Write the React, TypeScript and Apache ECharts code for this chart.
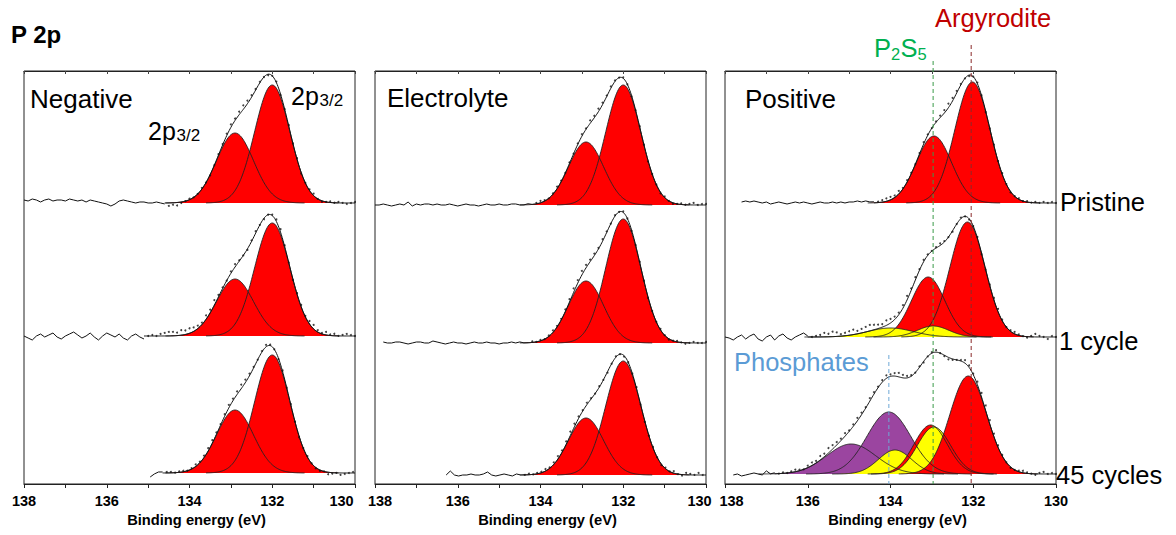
import React, { useEffect, useRef } from "react";
import * as echarts from "echarts";

const FONT = '"Liberation Sans", Arial, Helvetica, sans-serif';

// ---------- text ----------
const panelTitles = ["Negative", "Electrolyte", "Positive"];
const rowLabels = ["Pristine", "1 cycle", "45 cycles"];
const axisTitle = "Binding energy (eV)";
const figureTitle = "P 2p";
const xMin = 130;
const xMax = 138;

// ---------- spectra layout in intensity units (panel floor = 0) ----------
const baselineOffsets = [
  [281, 148, 11],
  [279, 141, 9],
  [281, 147, 10],
];
// first recorded binding energy of each spectrum (eV)
const dataStart = [
  [138, 138, 134.95],
  [138, 137.8, 136.28],
  [137.6, 138, 137.8],
];

const FILL: Record<string, string> = { red: "#ff0000", yellow: "#ffff00", purple: "#9b45a0" };

// fitted components: [centre eV, height, FWHM eV, colour]
type Comp = [number, number, number, string];
const negPristinePeaks: Comp[] = [[132.9, 70, 1.05, "red"], [132.0, 118, 1.0, "red"]];
const neg1cyclePeaks: Comp[] = [[132.9, 57, 1.05, "red"], [132.0, 113, 1.0, "red"]];
const neg45cyclePeaks: Comp[] = [[132.9, 63, 1.05, "red"], [132.0, 118, 1.0, "red"]];
const elePristinePeaks: Comp[] = [[132.9, 63, 1.0, "red"], [132.0, 120, 1.0, "red"]];
const ele1cyclePeaks: Comp[] = [[132.9, 62, 1.0, "red"], [132.0, 124, 1.0, "red"]];
const ele45cyclePeaks: Comp[] = [[132.9, 57, 1.0, "red"], [132.0, 114, 1.0, "red"]];
const posPristinePeaks: Comp[] = [[132.95, 67, 1.0, "red"], [132.02, 121, 1.0, "red"]];
const pos1cyclePeaks: Comp[] = [
  [133.09, 60, 0.95, "red"],
  [132.14, 115, 1.0, "red"],
  [134.0, 9, 1.3, "yellow"],
  [132.97, 11, 0.9, "yellow"],
];
const pos45cyclePeaks: Comp[] = [
  [134.95, 30, 1.4, "purple"],
  [134.04, 62, 1.25, "purple"],
  [133.89, 24, 0.95, "yellow"],
  [133.03, 49, 0.95, "red"],
  [132.95, 47, 0.95, "yellow"],
  [132.12, 98, 1.05, "red"],
];

// raw data residuals (intensity units), 0.1 eV steps: line part from dataStart, then dots
const negPristineNoise = [3,2,4,3,1,3,4,2,3,3,2,4,3,2,3,1,3,2,1,0,-1,-3,-1,2,3,2,1,0,1,1,0,0,1,0,-1];
const negPristineDots = [-3,-2,-3,-1,0,1,0,0,1,0,-1,0,1,1,2,3,2,3,4,3,2,1,1,0,-1,0,1,-1,0,1,0,1,-1,0,1,2,0,-1,0,1,0,1,0,-1,0,1];
const neg1cycleNoise = [0,-2,-4,0,2,-1,1,3,-1,-3,0,2,4,1,-2,0,3,-1,-4,0,3,1,-1,2,-2,-4,0,2,-1,-3];
const neg1cycleDots = [0,1,0,2,3,4,4,3,5,4,5,4,3,2,4,3,5,2,1,0,2,3,1,0,-1,1,2,0,-1,0,1,2,3,1,0,-1,1,2,1,3,4,2,1,3,1,2,0,1,2,1,0];
const neg45cycleNoise = [-4,-1,1,1];
const neg45cycleDots = [1,1,0,1,1,0,1,2,1,2,3,3,2,1,2,3,2,3,4,3,2,1,0,1,2,1,0,-1,1,0,1,0,-1,0,1,0,-1,-1,0,-2,-1,0,-2,-1,0,1];
const elePristineNoise = [0,0,1,0,-1,0,1,0,3,-1,1,0,1,1,0,1,0,0,1,0,-1,0,1,0,0,-1,0,1,0,0,1,0,0,1,1,0,0,1,0];
const elePristineDots = [1,2,1,0,1,2,1,0,1,0,1,2,1,3,2,3,2,1,2,1,0,1,0,-1,0,1,0,-1,0,0,-1,1,0,-1,0,1,0,1,2,0,1,1];
const ele1cycleNoise = [1,0,0,1,1,0,-1,0,1,1,0,0,2,1,0,-1,0,1,0,0,-1,0,1,0,0,1,0,0,-1,0,0,1,0,1,0,0];
const ele1cycleDots = [1,0,1,0,1,2,1,1,2,3,4,3,4,3,2,2,1,2,1,0,1,0,1,0,-1,0,1,0,-1,0,0,1,0,-1,0,1,0,-1,0,1,0,0,1];
const ele45cycleNoise = [0,4,0,-1,0,0,1,0,0,1,3,0,-1,0,1,0,-1,1,0];
const ele45cycleDots = [0,1,0,1,1,2,1,2,3,2,3,4,3,2,1,2,1,0,1,0,-1,0,1,0,-1,0,0,1,0,-1,0,1,0,-1,1,0,2,0,-1,2,1,0,2,0];
const posPristineNoise = [1,2,1,2,1,0,1,-1,0,1,0,-1,0,1,0,1,0,-1,0,1,0,0,1,0,1,0,1,1,2,1,2,1,1];
const posPristineDots = [1,2,3,3,2,3,1,2,1,0,1,2,1,0,1,2,3,4,3,2,1,0,-1,0,1,0,-1,0,1,0,1,0,-1,0,1,0,1,0,1,0,1,0,1,0];
const pos1cycleNoise = [0,-1,-3,0,2,-2,1,3,-2,-4,0,2,-3,1,3,-1,-3,0,2,4,1];
const pos1cycleDots = [0,1,2,4,3,5,4,2,3,4,5,3,4,5,6,5,4,3,5,4,3,2,3,4,2,3,1,2,1,0,1,2,1,0,-1,0,1,0,-1,0,1,-1,0,1,2,3,1,0,1,2,1,0,-1,1,3,1,0,-2,1,0];
const pos45cycleNoise = [-1,0,-2,-1,0,1,0,-1,3,0,1];
const pos45cycleDots = [0,1,0,1,2,1,0,2,3,2,4,3,5,4,3,2,3,1,2,3,2,1,3,2,1,2,3,2,3,4,3,2,1,0,1,-1,0,1,2,0,-1,-2,-1,0,1,3,2,1,3,4,5,4,3,2,1,0,-1,0,1,2,1,0,-1,1,2,0,1,0];

const peaksTable = [
  [negPristinePeaks, neg1cyclePeaks, neg45cyclePeaks],
  [elePristinePeaks, ele1cyclePeaks, ele45cyclePeaks],
  [posPristinePeaks, pos1cyclePeaks, pos45cyclePeaks],
];
const noiseTable = [
  [negPristineNoise, neg1cycleNoise, neg45cycleNoise],
  [elePristineNoise, ele1cycleNoise, ele45cycleNoise],
  [posPristineNoise, pos1cycleNoise, pos45cycleNoise],
];
const dotsTable = [
  [negPristineDots, neg1cycleDots, neg45cycleDots],
  [elePristineDots, ele1cycleDots, ele45cycleDots],
  [posPristineDots, pos1cycleDots, pos45cycleDots],
];

// reference lines in the Positive panel
const refNames = ["Argyrodite", "P2S5", "Phosphates"];
const refEnergies = [132.05, 132.97, 134.04];

// ---------- layout ----------
const GRID_LEFT = [24, 375, 725];
const GRID_TOP = 71;
const GRID_W = 331;
const GRID_H = 413;
// inward nudges of the end tick labels (138 at left edge, 130 at right edge)
const EDGE_PAD_LEFT = [0, 10, 13];
const EDGE_PAD_RIGHT = [27, 13, 0];

const gauss = (c: Comp, e: number) => c[1] * Math.exp((-4 * Math.LN2 * (e - c[0]) * (e - c[0])) / (c[2] * c[2]));
const envelope = (comps: Comp[], e: number) => comps.reduce((s, c) => s + gauss(c, e), 0);
const r3 = (v: number) => Math.round(v * 1000) / 1000;

function buildOption() {
  const grid = GRID_LEFT.map((left) => ({
    left,
    top: GRID_TOP,
    width: GRID_W,
    height: GRID_H,
    show: true,
    borderColor: "#222",
    borderWidth: 1,
    backgroundColor: "transparent",
  }));
  const xAxis: any[] = [];
  const yAxis: any[] = [];
  GRID_LEFT.forEach((_, p) => {
    const tickEvery = p === 2 ? 2 : 1;
    const lbl = { fontFamily: FONT, fontWeight: "bold", fontSize: 14.5, color: "#000" };
    xAxis.push({
      type: "value",
      gridIndex: p,
      position: "bottom",
      min: xMin,
      max: xMax,
      interval: tickEvery,
      inverse: true,
      axisLine: { show: true, onZero: false, lineStyle: { color: "#222", width: 1 } },
      axisTick: { show: true, inside: false, length: 4, lineStyle: { color: "#222" } },
      splitLine: { show: false },
      axisLabel: {
        formatter: (v: number) => {
          if (v % 2 !== 0) return "";
          if (v === xMax) return `{l|${v}}`;
          if (v === xMin) return `{r|${v}}`;
          return `{n|${v}}`;
        },
        ...lbl,
        margin: 9,
        rich: {
          n: { ...lbl },
          l: { ...lbl, padding: [0, 0, 0, EDGE_PAD_LEFT[p]] },
          r: { ...lbl, padding: [0, EDGE_PAD_RIGHT[p], 0, 0] },
        },
      },
      name: axisTitle,
      nameLocation: "middle",
      nameGap: 28,
      nameTextStyle: {
        fontFamily: FONT,
        fontWeight: "bold",
        fontSize: 14.7,
        color: "#000",
        padding: [0, 0, 0, 14],
      },
    });
    xAxis.push({
      type: "value",
      gridIndex: p,
      position: "top",
      min: xMin,
      max: xMax,
      interval: 1,
      inverse: true,
      axisLine: { show: true, onZero: false, lineStyle: { color: "#222", width: 1 } },
      axisTick: { show: true, inside: true, length: 3, lineStyle: { color: "#444" } },
      axisLabel: { show: false },
      splitLine: { show: false },
    });
    yAxis.push({ type: "value", gridIndex: p, min: 0, max: GRID_H, show: false });
  });

  const series: any[] = [];
  for (let p = 0; p < 3; p++) {
    for (let r = 0; r < 3; r++) {
      const comps = peaksTable[p][r];
      const off = baselineOffsets[p][r];
      const start = dataStart[p][r];
      const noise = noiseTable[p][r];
      const dots = dotsTable[p][r];
      const cut = r3(start - 0.1 * (noise.length - 1));
      const xi = 2 * p;

      const curvePoints = (api: any, c: Comp) => {
        const half = c[2] * 1.6;
        const lo = Math.max(xMin, c[0] - half);
        const hi = Math.min(xMax, c[0] + half);
        const n = Math.ceil((hi - lo) / 0.02);
        const pts: number[][] = [];
        for (let k = 0; k <= n; k++) {
          const e = lo + ((hi - lo) * k) / n;
          pts.push(api.coord([e, off + gauss(c, e)]));
        }
        return pts;
      };

      series.push({
        type: "custom",
        name: `fill-${p}-${r}`,
        coordinateSystem: "cartesian2d",
        xAxisIndex: xi,
        yAxisIndex: p,
        silent: true,
        z: 2,
        data: comps.map((c) => [c[0], off + c[1]]),
        renderItem: (params: any, api: any) => {
          const c = comps[params.dataIndex];
          return {
            type: "polygon",
            shape: { points: curvePoints(api, c) },
            style: { fill: FILL[c[3]], stroke: "none" },
          };
        },
      });
      series.push({
        type: "custom",
        name: `outline-${p}-${r}`,
        coordinateSystem: "cartesian2d",
        xAxisIndex: xi,
        yAxisIndex: p,
        silent: true,
        z: 3,
        data: comps.map((c) => [c[0], off + c[1]]),
        renderItem: (params: any, api: any) => {
          const c = comps[params.dataIndex];
          return {
            type: "polyline",
            shape: { points: curvePoints(api, c) },
            style: { stroke: "#222", lineWidth: 0.9, fill: "none" },
          };
        },
      });

      // raw data drawn as a line before the fitted range
      series.push({
        type: "line",
        name: `data-line-${p}-${r}`,
        xAxisIndex: xi,
        yAxisIndex: p,
        showSymbol: false,
        silent: true,
        z: 4,
        lineStyle: { color: "#111", width: 1 },
        data: noise.map((v, i) => {
          const e = r3(start - 0.1 * i);
          return [e, off + envelope(comps, e) + v];
        }),
      });

      // fit envelope
      const nEnv = Math.round((cut - xMin) / 0.02);
      const envData: number[][] = [];
      for (let k = 0; k <= nEnv; k++) {
        const e = cut - ((cut - xMin) * k) / nEnv;
        envData.push([e, off + envelope(comps, e)]);
      }
      series.push({
        type: "line",
        name: `envelope-${p}-${r}`,
        xAxisIndex: xi,
        yAxisIndex: p,
        showSymbol: false,
        silent: true,
        z: 4,
        lineStyle: { color: "#111", width: 1 },
        data: envData,
      });

      // measured points in the fitted range
      series.push({
        type: "scatter",
        name: `data-dots-${p}-${r}`,
        xAxisIndex: xi,
        yAxisIndex: p,
        silent: true,
        z: 5,
        symbolSize: 2,
        itemStyle: { color: "#111" },
        data: dots
          .map((v, i) => {
            const e = r3(cut - 0.1 * (i + 1));
            return [e, off + envelope(comps, e) + v];
          })
          .filter((d) => d[0] >= xMin - 1e-6),
      });
    }
  }

  return { animation: false, grid, xAxis, yAxis, series };
}

function txt(text: string, x: number, y: number, size: number, color = "#000", weight = "normal") {
  return {
    type: "text",
    x,
    y,
    silent: true,
    z: 100,
    style: {
      text,
      fill: color,
      fontSize: size,
      fontFamily: FONT,
      fontWeight: weight,
      align: "left",
      verticalAlign: "middle",
    },
  };
}

function buildGraphics(xs: number[], floorY: number) {
  const els: any[] = [];
  els.push(txt(figureTitle, 11, 34, 24, "#000", "bold"));
  els.push(txt(panelTitles[0], 30, 99, 26));
  els.push(txt(panelTitles[1], 387, 98, 26));
  els.push(txt(panelTitles[2], 745, 99, 26));
  els.push(txt(rowLabels[0], 1060, 202, 25.5));
  els.push(txt(rowLabels[1], 1059, 341, 25.5));
  els.push(txt(rowLabels[2], 1056, 475, 25.5));
  // 2p3/2 labels
  els.push(txt("2p", 291, 96, 25));
  els.push(txt("3/2", 319.5, 100.5, 17));
  els.push(txt("2p", 148, 131, 25));
  els.push(txt("3/2", 176.5, 135.5, 17));
  // reference labels
  els.push(txt(refNames[0], 935, 17.5, 25.5, "#c00000"));
  els.push(txt("P", 874, 47.5, 25.5, "#00b050"));
  els.push(txt("2", 891, 54, 16.5, "#00b050"));
  els.push(txt("S", 900.5, 47.5, 25.5, "#00b050"));
  els.push(txt("5", 917.5, 54, 16.5, "#00b050"));
  els.push(txt(refNames[2], 734, 362, 25.5, "#5b9bd5"));
  // dashed reference lines
  const tops = [45, 61, 355];
  const cols = ["#8b2a2a", "#3a9a48", "#6fa8d6"];
  xs.forEach((x, i) => {
    els.push({
      type: "line",
      silent: true,
      z: 50,
      shape: { x1: x, y1: tops[i], x2: x, y2: floorY },
      style: { stroke: cols[i], lineWidth: 1, lineDash: [4, 3] },
    });
  });
  return els;
}

export default function App() {
  const ref = useRef<HTMLDivElement>(null);
  useEffect(() => {
    const el = ref.current;
    if (!el) return;
    const chart = echarts.init(el, null, { renderer: "svg" });
    chart.setOption(buildOption() as any);
    const xs = refEnergies.map((e) => chart.convertToPixel({ xAxisIndex: 4 } as any, e) as unknown as number);
    const floorY = chart.convertToPixel({ yAxisIndex: 2 } as any, 0) as unknown as number;
    chart.setOption({ graphic: { elements: buildGraphics(xs, floorY) } } as any);
    return () => chart.dispose();
  }, []);
  return (
    <div
      ref={ref}
      style={{ position: "absolute", left: 0, top: 0, width: 1176, height: 535, background: "#fff" }}
    />
  );
}
